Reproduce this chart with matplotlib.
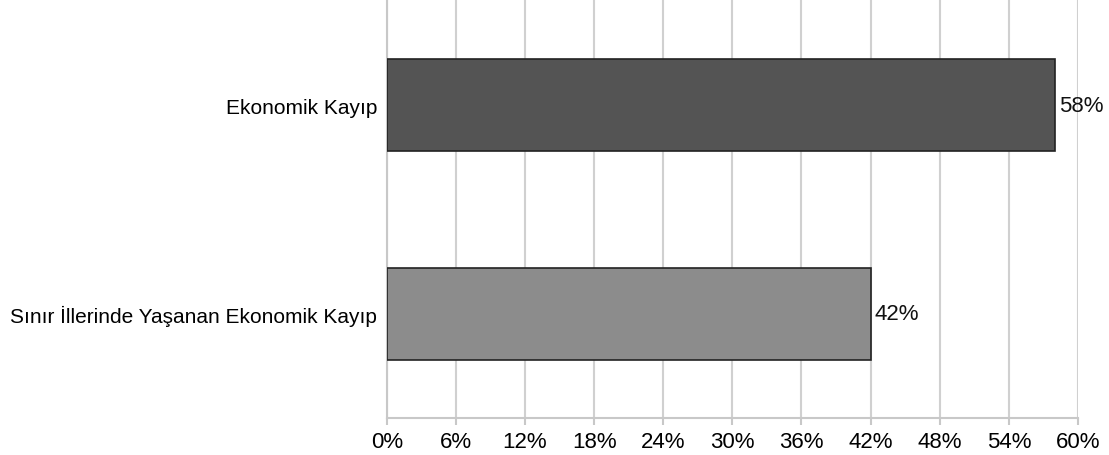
import matplotlib.pyplot as plt
import numpy as np

plt.rcParams['font.family'] = ['Liberation Sans', 'DejaVu Sans']

categories = ['Ekonomik Kayıp', 'Sınır İllerinde Yaşanan Ekonomik Kayıp']
values = [58, 42]
colors = ['#545454', '#8c8c8c']
xticks = list(range(0, 61, 6))

fig = plt.figure(figsize=(11.09, 4.56), dpi=100)
ax = fig.add_axes([0.3487, 0.081, 0.6233, 0.919])

y = np.arange(len(categories))
bars = ax.barh(y, values, height=0.44, color=colors, edgecolor='#222222', linewidth=1.2, zorder=3)
for b, v in zip(bars, values):
    ax.text(b.get_width() + 0.35, b.get_y() + b.get_height() / 2, f'{v}%',
            va='center', ha='left', fontsize=16, color='#111111')

ax.set_xlim(0, 60)
ax.set_ylim(1.5, -0.51)
ax.set_xticks(xticks)
ax.set_xticklabels([f'{t}%' for t in xticks], fontsize=16)
ax.set_yticks(y)
ax.set_yticklabels(categories, fontsize=15)
ax.tick_params(axis='y', length=0, pad=7)
ax.tick_params(axis='x', length=5, color='#c8c8c8', width=1.5, pad=4)
ax.grid(axis='x', color='#d0d0d0', linewidth=1.5, zorder=0)
for s in ['top', 'right']:
    ax.spines[s].set_visible(False)
for s in ['left', 'bottom']:
    ax.spines[s].set_color('#c8c8c8')
    ax.spines[s].set_linewidth(1.5)

fig.savefig('out.png', dpi=100, facecolor='white')
